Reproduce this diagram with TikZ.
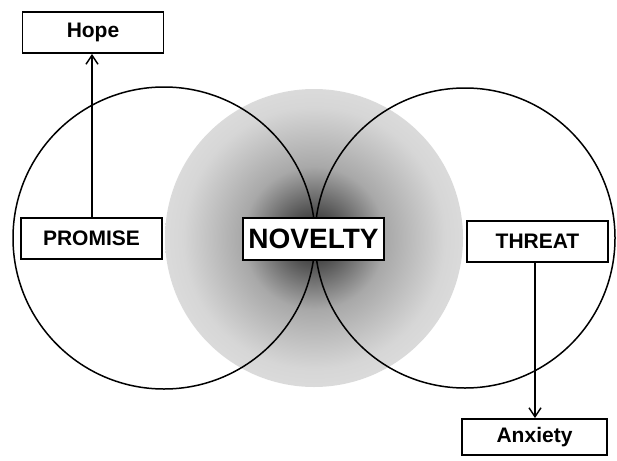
\documentclass[tikz,border=0pt]{standalone}
\usepackage{fontspec}
\setmainfont{Liberation Sans}
\usepackage{tikz}
\usetikzlibrary{positioning,arrows.meta}
\pgfdeclareradialshading{glow}{\pgfpoint{0bp}{0bp}}{%
  color(0bp)=(black!88); color(5bp)=(black!66); color(12bp)=(black!34);
  color(22bp)=(black!16); color(34bp)=(black!9); color(50bp)=(black!6)}
\tikzset{
  lbox/.style={rectangle, draw=black, fill=white, line width=1.8pt,
               minimum width=141pt, minimum height=41pt, inner sep=0pt,
               font=\fontsize{21}{24}\selectfont\bfseries},
  ring/.style={draw=black, line width=1.5pt},
  ar/.style={-{Straight Barb[length=9pt,width=12pt,line width=1.5pt]}, line width=1.5pt},
}
\begin{document}
\begin{tikzpicture}[x=1pt, y=-1pt]
  \useasboundingbox (0,0) rectangle (617,460);
  % shaded core
  \shade[shading=glow] (314,238) circle[radius=149];
  \draw[ring] (164,238) circle[radius=151];
  \draw[ring] (465,238) circle[radius=150];

  \node[lbox] (hope) at (93,32.5) {Hope};
  \node[lbox] (promise) at (91.5,238.5) {PROMISE};
  \node[lbox, minimum height=42pt, font=\fontsize{28}{30}\selectfont\bfseries] (novelty) at (313.5,239) {NOVELTY};
  \node[lbox] (threat) at (537.5,241.5) {THREAT};
  \node[lbox, minimum width=145pt, minimum height=36pt] (anxiety) at (534.5,437) {Anxiety};

  \draw[ar] (promise.north -| 92,0) -- (hope.south -| 92,0);
  \draw[ar] (threat.south -| 535,0) -- (anxiety.north -| 535,0);
\end{tikzpicture}
\end{document}
